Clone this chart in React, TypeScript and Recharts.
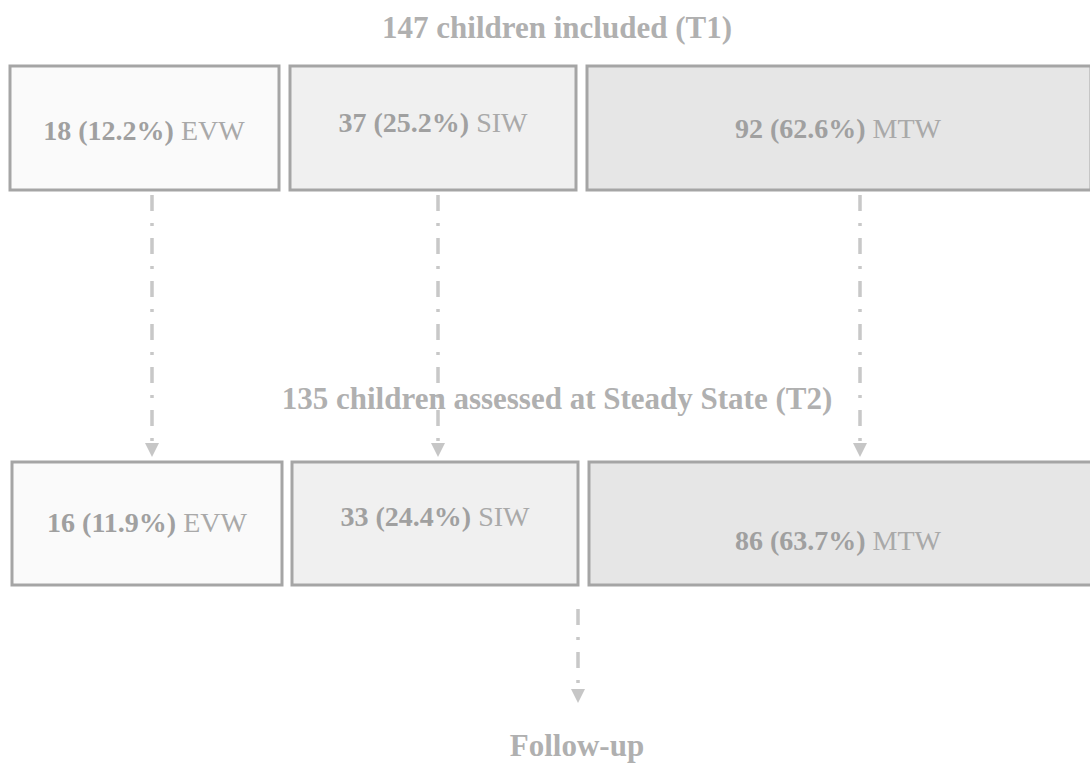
import React from "react";
import { ComposedChart, XAxis, YAxis, ReferenceArea, ReferenceLine, ReferenceDot } from "recharts";

// data
const groups = ["EVW", "SIW", "MTW"];
const t1Counts = [18, 37, 92];
const t1Pct = [12.2, 25.2, 62.6];
const t2Counts = [16, 33, 86];
const t2Pct = [11.9, 24.4, 63.7];
const stageTitles = [
  "147 children included (T1)",
  "135 children assessed at Steady State (T2)",
  "Follow-up"
];

// diagram layout (axis units = pixels)
const W = 1090;
const H = 765;
const fills = ["#fafafa", "#f0f0f0", "#e6e6e6"];
const rowBoxes = [
  { y1: 66, y2: 190, cols: [[10, 279], [290, 576], [587, 1091]], text: [[144, 130], [433, 122], [838, 128]] },
  { y1: 462, y2: 585, cols: [[12, 282], [292, 578], [589, 1093]], text: [[147, 522], [435, 516], [838, 540]] }
];
const titlePos = [[557, 27], [557, 398], [577, 745]];
const arrows = [
  [152, 195, 444],
  [438, 195, 444],
  [860, 195, 444],
  [578, 609, 690]
];

const serif = "'Liberation Serif', 'Times New Roman', serif";

const BoxText = (props: any) => {
  const { cx, cy, count, pct, name } = props;
  return (
    <text x={cx} y={cy} dy="0.34em" textAnchor="middle" fontFamily={serif} fontSize={28} fill="#a0a0a0">
      <tspan fontWeight="bold">{`${count} (${pct.toFixed(1)}%) `}</tspan>
      <tspan fill="#a9a9a9">{name}</tspan>
    </text>
  );
};

const Title = (props: any) => {
  const { cx, cy, label } = props;
  return (
    <text x={cx} y={cy} dy="0.34em" textAnchor="middle" fontFamily={serif} fontSize={31} fontWeight="bold" fill="#b0b0b0">
      {label}
    </text>
  );
};

const Head = (props: any) => {
  const { cx, cy } = props;
  return <path d={`M${cx - 7},${cy - 14} L${cx + 7},${cy - 14} L${cx},${cy} Z`} fill="#c6c6c6" />;
};

export default function App() {
  const rows = [
    { counts: t1Counts, pct: t1Pct },
    { counts: t2Counts, pct: t2Pct }
  ];
  return (
    <div style={{ position: "absolute", left: 0, top: 0, background: "#fff" }}>
      <ComposedChart width={W} height={H} data={[{}]} margin={{ top: 0, right: 0, bottom: 0, left: 0 }}>
        <XAxis type="number" dataKey="x" domain={[0, W]} hide allowDataOverflow />
        <YAxis type="number" dataKey="y" domain={[0, H]} reversed hide allowDataOverflow />
        {rowBoxes.map((row, r) =>
          row.cols.map(([x1, x2], i) => (
            <ReferenceArea
              key={`box-${r}-${i}`}
              x1={x1}
              x2={x2}
              y1={row.y1}
              y2={row.y2}
              fill={fills[i]}
              fillOpacity={1}
              stroke="#a5a5a5"
              strokeWidth={3}
              ifOverflow="visible"
            />
          ))
        )}
        {arrows.map(([x, y1, y2], i) => (
          <ReferenceLine
            key={`ar-${i}`}
            segment={[{ x, y: y1 }, { x, y: y2 }]}
            stroke="#c8c8c8"
            strokeWidth={3.5}
            strokeDasharray="16 12 3 12"
            ifOverflow="visible"
          />
        ))}
        {arrows.map(([x, , y2], i) => (
          <ReferenceDot key={`hd-${i}`} x={x} y={y2 + 13} r={1} shape={(p: any) => <Head {...p} />} ifOverflow="visible" />
        ))}
        {rowBoxes.map((row, r) =>
          groups.map((g, i) => (
            <ReferenceDot
              key={`tx-${r}-${i}`}
              x={row.text[i][0]}
              y={row.text[i][1]}
              r={1}
              ifOverflow="visible"
              shape={(p: any) => <BoxText {...p} count={rows[r].counts[i]} pct={rows[r].pct[i]} name={g} />}
            />
          ))
        )}
        {stageTitles.map((t, i) => (
          <ReferenceDot
            key={`ti-${i}`}
            x={titlePos[i][0]}
            y={titlePos[i][1]}
            r={1}
            ifOverflow="visible"
            shape={(p: any) => <Title {...p} label={t} />}
          />
        ))}
      </ComposedChart>
    </div>
  );
}
